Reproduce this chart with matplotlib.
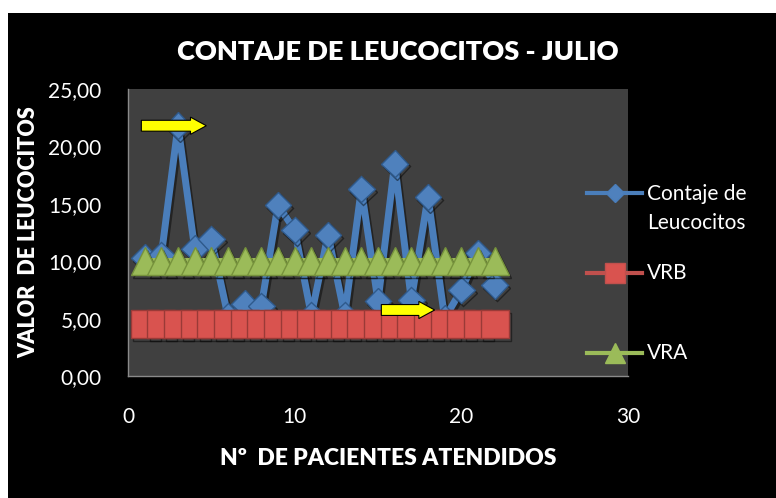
import matplotlib.pyplot as plt
import matplotlib.patches as mpatches
import matplotlib.patheffects as pe

# datos
pacientes = [1, 2, 3, 4, 5, 6, 7, 8, 9, 10, 11, 12, 13, 14, 15, 16, 17, 18, 19, 20, 21, 22]
leucocitos = [10.3, 10.5, 21.8, 11.1, 11.9, 5.2, 6.3, 6.1, 14.9, 12.7, 5.3,
              12.3, 5.3, 16.3, 6.5, 18.5, 6.6, 15.6, 5.0, 7.5, 10.7, 7.9]
vrb = [4.5] * 22
vra = [10.0] * 22

series_names = ['Contaje de\nLeucocitos', 'VRB', 'VRA']
x_ticks = [0, 10, 20, 30]
y_ticks = [0, 5, 10, 15, 20, 25]

# flechas amarillas (x inicio, x fin, y)
flechas = [(0.8, 4.7, 21.8), (15.2, 18.4, 5.75)]

plt.rcParams['font.family'] = ['Lato', 'DejaVu Sans']

fig = plt.figure(figsize=(7.76, 4.98), dpi=100, facecolor='white')
fig.add_artist(mpatches.Rectangle((8 / 776, 0), 1, 485 / 498,
                                  transform=fig.transFigure,
                                  facecolor='black', edgecolor='none', zorder=-5))

ax = fig.add_axes([128 / 776, 1 - 376 / 498, 500 / 776, 287 / 498])
ax.set_facecolor('#404040')

shadow = [pe.SimpleLineShadow(offset=(1.5, -2), alpha=0.45), pe.Normal()]

ax.plot(pacientes, leucocitos, color='#4A7EBB', lw=5, marker='D', ms=13.5,
        mfc='#4F81BD', mec='#2F5A8C', mew=1, solid_joinstyle='round',
        zorder=3, path_effects=shadow)
ax.plot(pacientes, vrb, color='#C0504D', lw=5, marker='s', ms=20,
        mfc='#D9534F', mec='#9A3A37', mew=1, zorder=4, path_effects=shadow)
ax.plot(pacientes, vra, color='#9BBB59', lw=5, marker='^', ms=20,
        mfc='#9BBB59', mec='#76923C', mew=1, zorder=5, path_effects=shadow)

for x0, x1, y in flechas:
    ax.add_patch(mpatches.FancyArrow(x0, y, x1 - x0, 0, width=0.95,
                                     head_width=1.5, head_length=0.95,
                                     length_includes_head=True,
                                     facecolor='#FFFF00', edgecolor='black',
                                     lw=0.8, zorder=6))

ax.set_xlim(0, 30)
ax.set_ylim(0, 25)
ax.set_xticks(x_ticks)
ax.set_yticks(y_ticks)
ax.set_yticklabels([('%.2f' % v).replace('.', ',') for v in y_ticks])
ax.tick_params(length=0, colors='white', labelsize=15)
ax.tick_params(axis='y', pad=19)
ax.tick_params(axis='x', pad=22)
for s in ['top', 'right']:
    ax.spines[s].set_visible(False)
for s in ['left', 'bottom']:
    ax.spines[s].set_color('#8A8A8A')
    ax.spines[s].set_linewidth(1)

fig.text(398 / 776, 1 - 52 / 498, 'CONTAJE DE LEUCOCITOS - JULIO', color='white',
         fontsize=19.5, fontweight='heavy', ha='center', va='center')
fig.text(29 / 776, 1 - 232 / 498, 'VALOR  DE LEUCOCITOS', color='white',
         fontsize=15.5, fontweight='heavy', rotation=90, ha='center', va='center')
fig.text(388 / 776, 1 - 458 / 498, 'Nº  DE PACIENTES ATENDIDOS', color='white',
         fontsize=16.5, fontweight='heavy', ha='center', va='center')

# leyenda a mano (como en excel)
leg_y = [0.638, 0.359, 0.080]
leg_style = [('#4A7EBB', 'D', 9, '#4F81BD'),
             ('#C0504D', 's', 14, '#D9534F'),
             ('#9BBB59', '^', 15, '#9BBB59')]
for name, y, (c, m, ms, fc) in zip(series_names, leg_y, leg_style):
    ax.plot([0.918, 1.028], [y, y], transform=ax.transAxes, color=c, lw=3,
            clip_on=False, zorder=7)
    ax.plot([0.973], [y], transform=ax.transAxes, color=c, marker=m, ms=ms,
            mfc=fc, mec=c, clip_on=False, zorder=8)
    if '\n' in name:
        ax.text(1.038, y + 0.03, name, transform=ax.transAxes, color='white',
                fontsize=15, va='top', ha='left', linespacing=1.55)
    else:
        ax.text(1.038, y, name, transform=ax.transAxes, color='white',
                fontsize=15, va='center', ha='left')

fig.savefig('out.png', dpi=100, facecolor=fig.get_facecolor())
